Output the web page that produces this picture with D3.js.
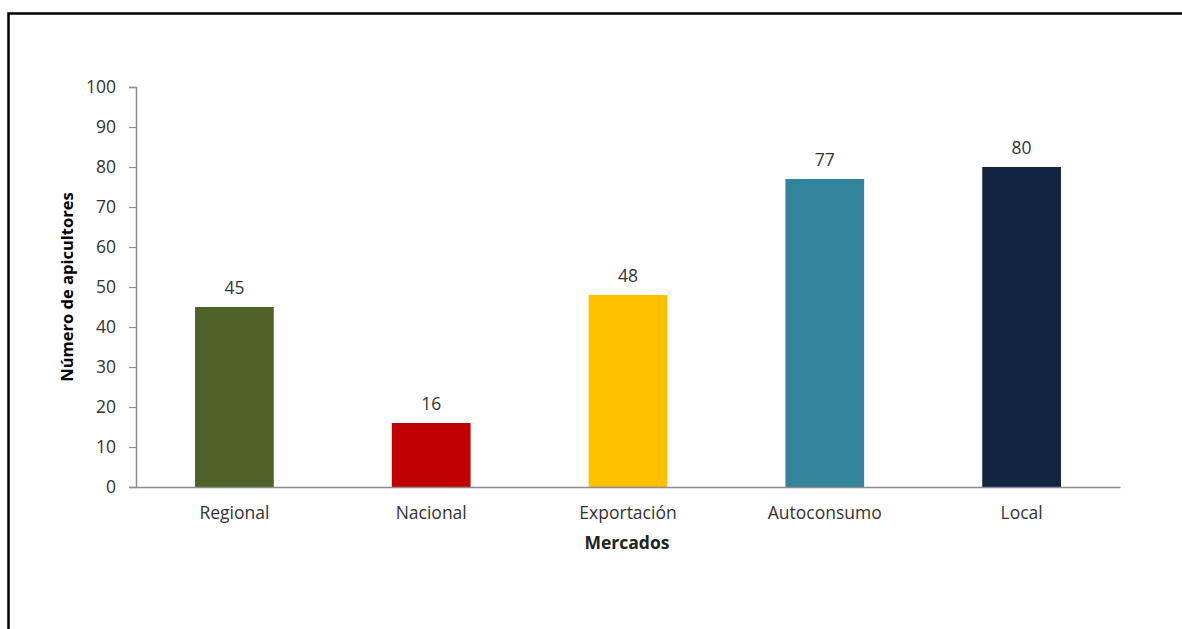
<!DOCTYPE html>
<html>
<head>
<meta charset="utf-8">
<script src="https://cdn.jsdelivr.net/npm/d3@7"></script>
<style>
  html, body { margin: 0; padding: 0; background: #fff; }
  svg { display: block; }
  text { font-family: "Open Sans", "Noto Sans", sans-serif; }
</style>
</head>
<body>
<svg id="chart" width="1182" height="629"></svg>
<script>
const categories = ["Regional", "Nacional", "Exportación", "Autoconsumo", "Local"];
const values = [45, 16, 48, 77, 80];
const colors = ["#4F6228", "#C00000", "#FFC000", "#31849B", "#12233F"];
const yTicks = [0, 10, 20, 30, 40, 50, 60, 70, 80, 90, 100];
const yTitle = "Número de apicultores";
const xTitle = "Mercados";

const svg = d3.select("#chart");

// outer frame
svg.append("rect")
  .attr("x", 8.5).attr("y", 13.5)
  .attr("width", 1200).attr("height", 700)
  .attr("fill", "none").attr("stroke", "#000").attr("stroke-width", 2.5);

const x = d3.scaleBand().domain(categories).range([136, 1120]).paddingInner(0.6).paddingOuter(0.3);
const y = d3.scaleLinear().domain([0, 100]).range([487, 87]);

// y axis
const yAxis = svg.append("g").attr("transform", "translate(136,0)")
  .call(d3.axisLeft(y).tickValues(yTicks).tickSize(7).tickPadding(13));
yAxis.select(".domain").attr("stroke", "#8c8c8c").attr("stroke-width", 1.5);
yAxis.selectAll(".tick line").attr("stroke", "#8c8c8c").attr("stroke-width", 1.2);
yAxis.selectAll(".tick text").attr("font-size", 17.5).attr("fill", "#333")
  .style("font-family", "'Open Sans', sans-serif");

// bars
svg.append("g").selectAll("rect").data(values).join("rect")
  .attr("x", (d, i) => x(categories[i]))
  .attr("y", d => y(d))
  .attr("width", x.bandwidth())
  .attr("height", d => y(0) - y(d))
  .attr("fill", (d, i) => colors[i]);

// x axis
const xAxis = svg.append("g").attr("transform", "translate(0,487)")
  .call(d3.axisBottom(x).tickSize(0).tickPadding(20).tickSizeOuter(0));
xAxis.select(".domain").attr("stroke", "#8c8c8c").attr("stroke-width", 1.5);
xAxis.selectAll(".tick text").attr("font-size", 17.5).attr("fill", "#333")
  .style("font-family", "'Open Sans', sans-serif");

// value labels
svg.append("g").selectAll("text").data(values).join("text")
  .attr("x", (d, i) => x(categories[i]) + x.bandwidth() / 2)
  .attr("y", d => y(d) - 13)
  .attr("text-anchor", "middle")
  .attr("font-size", 17.5).attr("fill", "#333")
  .text(d => d);

// axis titles
svg.append("text")
  .attr("transform", "translate(73,287) rotate(-90)")
  .attr("text-anchor", "middle")
  .attr("font-size", 16.5).attr("font-weight", "bold").attr("fill", "#000")
  .text(yTitle);

svg.append("text")
  .attr("x", 627).attr("y", 549)
  .attr("text-anchor", "middle")
  .attr("font-size", 17.5).attr("font-weight", "bold").attr("fill", "#222")
  .text(xTitle);
</script>
</body>
</html>
